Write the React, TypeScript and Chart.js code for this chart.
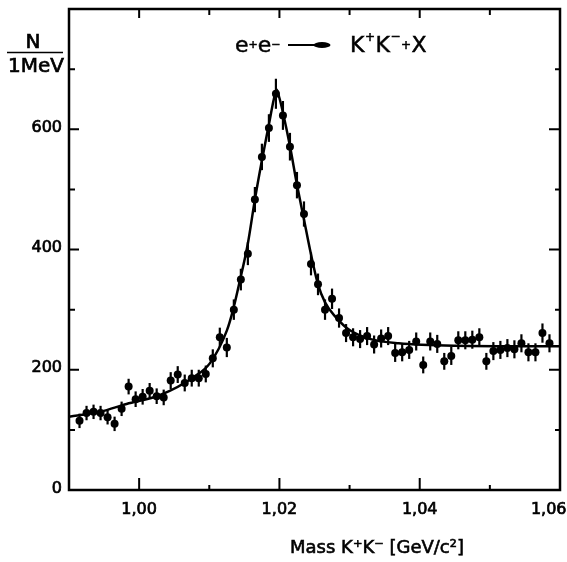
import { useEffect, useRef } from "react";
import { Chart, registerables } from "chart.js";

Chart.register(...registerables);

// Measured invariant mass bins (GeV/c^2)
const massValues = [
  0.9915, 0.9925, 0.9935, 0.9945, 0.9955, 0.9965, 0.9975, 0.9985, 0.9995,
  1.0005, 1.0015, 1.0025, 1.0035, 1.0045, 1.0055, 1.0065, 1.0075, 1.0085,
  1.0095, 1.0105, 1.0115, 1.0125, 1.0135, 1.0145, 1.0155, 1.0165, 1.0175,
  1.0185, 1.0195, 1.0205, 1.0215, 1.0225, 1.0235, 1.0245, 1.0255, 1.0265,
  1.0275, 1.0285, 1.0295, 1.0305, 1.0315, 1.0325, 1.0335, 1.0345, 1.0355,
  1.0365, 1.0375, 1.0385, 1.0395, 1.0405, 1.0415, 1.0425, 1.0435, 1.0445,
  1.0455, 1.0465, 1.0475, 1.0485, 1.0495, 1.0505, 1.0515, 1.0525, 1.0535,
  1.0545, 1.0555, 1.0565, 1.0575, 1.0585,
];
// Entries per 1 MeV
const counts = [
  115, 128, 130, 128, 121, 110, 135, 172, 151,
  155, 165, 156, 154, 182, 192, 178, 186, 186,
  193, 219, 254, 237, 300, 350, 393, 483, 554,
  602, 659, 623, 571, 507, 459, 376, 342, 300,
  318, 286, 261, 254, 251, 256, 242, 252, 256,
  228, 229, 233, 247, 208, 247, 243, 214, 223,
  249, 249, 250, 254, 214, 231, 233, 236, 234,
  244, 229, 229, 261, 244,
];
const countErrors = [
  12, 12, 12, 12, 12, 12, 12, 13, 13,
  13, 13, 13, 13, 14, 14, 14, 14, 14,
  14, 15, 16, 16, 17, 18, 19, 21, 22,
  23, 25, 24, 23, 22, 21, 19, 18, 17,
  17, 16, 15, 15, 15, 15, 15, 15, 15,
  15, 15, 15, 15, 14, 15, 15, 14, 15,
  15, 15, 15, 15, 14, 15, 15, 15, 15,
  15, 15, 15, 16, 15,
];
// Fitted curve
const fitMass = [
  0.99, 0.9944, 0.9982, 1.003, 1.0078, 1.0101, 1.0125, 1.0134, 1.0143,
  1.0155, 1.0165, 1.0175, 1.0185, 1.0192, 1.0196, 1.02, 1.0205, 1.0215,
  1.0225, 1.0235, 1.0245, 1.0255, 1.0265, 1.028, 1.03, 1.033, 1.037,
  1.045, 1.06,
];
const fitCounts = [
  122, 130, 143, 158, 188, 211, 265, 300, 345,
  410, 483, 548, 608, 650, 666, 652, 628, 572,
  508, 450, 392, 342, 312, 288, 266, 251, 244,
  240, 239,
];
const xTickValues = [0.99, 1.0, 1.01, 1.02, 1.03, 1.04, 1.05, 1.06];
const xLabelValues = [1.0, 1.02, 1.04, 1.06];
const yTickValues = [0, 100, 200, 300, 400, 500, 600, 700, 800];
const yLabelValues = [0, 200, 400, 600];

const FONT = "'DejaVu Sans', sans-serif";

type Piece = [string, number, number];

function heavyText(ctx: CanvasRenderingContext2D, t: string, x: number, y: number, w = 0.7) {
  ctx.fillText(t, x, y);
  ctx.lineWidth = w;
  ctx.strokeText(t, x, y);
}

function drawPieces(ctx: CanvasRenderingContext2D, x: number, y: number, pieces: Piece[], gap = 0) {
  let cx = x;
  for (const [t, size, dy] of pieces) {
    ctx.font = `${size}px ${FONT}`;
    heavyText(ctx, t, cx, y + dy, 0.5);
    cx += ctx.measureText(t).width + gap;
  }
}

const decorPlugin = {
  id: "decor",
  beforeDatasetsDraw(chart: any) {
    const ctx: CanvasRenderingContext2D = chart.ctx;
    const xs = chart.scales.x;
    const ys = chart.scales.y;
    ctx.save();
    ctx.strokeStyle = "#000";
    ctx.lineWidth = 2.2;
    massValues.forEach((m, i) => {
      const px = xs.getPixelForValue(m);
      ctx.beginPath();
      ctx.moveTo(px, ys.getPixelForValue(counts[i] - countErrors[i]));
      ctx.lineTo(px, ys.getPixelForValue(counts[i] + countErrors[i]));
      ctx.stroke();
    });
    ctx.restore();
  },
  afterDraw(chart: any) {
    const ctx: CanvasRenderingContext2D = chart.ctx;
    const xs = chart.scales.x;
    const ys = chart.scales.y;
    const { left, right, top, bottom } = chart.chartArea;
    ctx.save();
    ctx.strokeStyle = "#000";
    ctx.fillStyle = "#000";
    // frame
    ctx.lineWidth = 2.5;
    ctx.strokeRect(left, top, right - left, bottom - top);
    // x ticks
    ctx.lineWidth = 2;
    xTickValues.forEach((v) => {
      const px = xs.getPixelForValue(v);
      if (px <= left + 2 || px >= right - 2) return;
      const major = xLabelValues.some((l) => Math.abs(l - v) < 1e-6);
      ctx.beginPath();
      ctx.moveTo(px, bottom);
      ctx.lineTo(px, bottom - (major ? 12 : 5));
      ctx.moveTo(px, top);
      ctx.lineTo(px, top + (major ? 9 : 6));
      ctx.stroke();
    });
    // y ticks
    yTickValues.forEach((v) => {
      const py = ys.getPixelForValue(v);
      if (py >= bottom - 2 || py <= top + 2) return;
      const major = yLabelValues.includes(v);
      ctx.beginPath();
      ctx.moveTo(left, py);
      ctx.lineTo(left + (major ? 10 : 6), py);
      ctx.moveTo(right, py);
      ctx.lineTo(right - (major ? 11 : 5), py);
      ctx.stroke();
    });
    // tick labels
    ctx.font = `16px ${FONT}`;
    ctx.textAlign = "right";
    ctx.textBaseline = "middle";
    yLabelValues.forEach((v) => {
      heavyText(ctx, String(v), left - 7, ys.getPixelForValue(v) - 1.5);
    });
    ctx.textAlign = "center";
    const W = chart.width;
    xLabelValues.forEach((v) => {
      const label = v.toFixed(2).replace(".", ",");
      const w = ctx.measureText(label).width;
      let px = xs.getPixelForValue(v);
      px = Math.min(px, W - w / 2 - 0.5);
      heavyText(ctx, label, px, 510);
    });
    // x title
    ctx.font = `18px ${FONT}`;
    heavyText(ctx, "Mass K\u207AK\u207B [GeV/c\u00B2]", 377, 548, 0.6);
    // y title (fraction)
    ctx.textBaseline = "alphabetic";
    ctx.font = `20px ${FONT}`;
    heavyText(ctx, "N", 33, 48);
    heavyText(ctx, "1MeV", 36, 72);
    ctx.lineWidth = 1.6;
    ctx.beginPath();
    ctx.moveTo(7, 52.5);
    ctx.lineTo(63, 52.5);
    ctx.stroke();
    // reaction label
    ctx.textAlign = "left";
    drawPieces(ctx, 235, 52, [
      ["e", 22, 0],
      ["+", 11, -4],
      ["e", 22, 0],
      ["\u2212", 11, -4],
    ]);
    ctx.lineWidth = 2;
    ctx.beginPath();
    ctx.moveTo(288, 45);
    ctx.lineTo(318, 45);
    ctx.stroke();
    ctx.beginPath();
    ctx.ellipse(322, 45, 8.5, 3, 0, 0, Math.PI * 2);
    ctx.fill();
    drawPieces(
      ctx,
      350,
      52,
      [
        ["K", 22, 0],
        ["+", 12, -11],
        ["K", 22, 0],
        ["\u2212", 12, -12],
        ["+", 12, -3],
        ["X", 22, 0],
      ],
      0.5
    );
    ctx.restore();
  },
};

export default function App() {
  const canvasRef = useRef<HTMLCanvasElement | null>(null);

  useEffect(() => {
    const canvas = canvasRef.current;
    if (!canvas) return;
    const chart = new Chart(canvas, {
      type: "scatter",
      data: {
        datasets: [
          {
            label: "fit",
            data: fitMass.map((m, i) => ({ x: m, y: fitCounts[i] })),
            showLine: true,
            borderColor: "#000",
            borderWidth: 2.5,
            pointRadius: 0,
            cubicInterpolationMode: "monotone",
            fill: false,
          } as any,
          {
            label: "data",
            data: massValues.map((m, i) => ({ x: m, y: counts[i] })),
            showLine: false,
            pointRadius: 4,
            pointBackgroundColor: "#000",
            pointBorderColor: "#000",
            pointBorderWidth: 0,
          } as any,
        ],
      },
      options: {
        responsive: false,
        animation: false,
        layout: { padding: { left: 69, right: 7, top: 9, bottom: 72 } },
        plugins: {
          legend: { display: false },
          tooltip: { enabled: false },
          title: { display: false },
        },
        scales: {
          x: { type: "linear", min: 0.99, max: 1.06, display: false },
          y: { type: "linear", min: 0, max: 800, display: false },
        },
      },
      plugins: [decorPlugin],
    });
    return () => chart.destroy();
  }, []);

  return (
    <div
      style={{
        position: "fixed",
        left: 0,
        top: 0,
        width: 567,
        height: 562,
        background: "#fff",
      }}
    >
      <canvas ref={canvasRef} width={567} height={562} style={{ display: "block" }} />
    </div>
  );
}
